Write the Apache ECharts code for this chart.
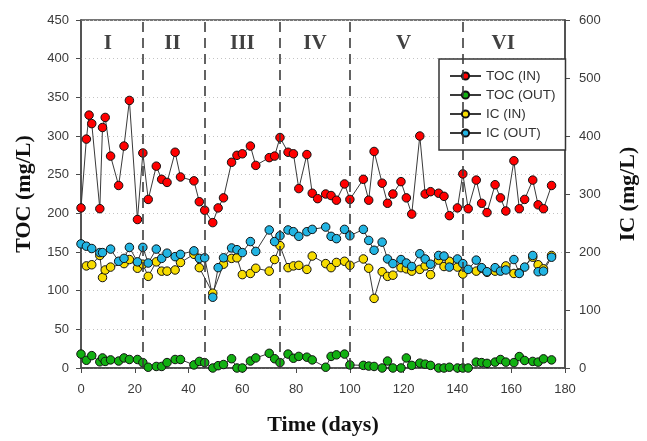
<!DOCTYPE html>
<html>
<head>
<meta charset="utf-8">
<script src="https://cdn.jsdelivr.net/npm/echarts@6/dist/echarts.min.js"></script>
<style>
  html, body { margin: 0; padding: 0; background: #fff; }
  #main { width: 647px; height: 441px; }
</style>
</head>
<body>
<div id="main"></div>
<script>
// sampling days
var days = [0,2,3,4,7,8,9,11,14,16,18,21,23,25,28,30,32,35,37,42,44,46,49,51,53,56,58,60,63,65,70,72,74,77,79,81,84,86,88,91,93,95,98,100,105,107,109,112,114,116,119,121,123,126,128,130,133,135,137,140,142,144,147,149,151,154,156,158,161,163,165,168,170,172,175];

// TOC, mg/L (left axis)
var tocIn = [207,296,327,316,206,311,324,274,236,287,
  346,192,278,218,261,244,240,279,247,242,
  215,204,188,207,220,266,275,277,287,262,
  272,274,298,279,277,232,276,226,219,225,
  223,217,238,218,244,217,280,239,213,225,
  241,220,199,300,225,228,226,222,197,207,
  251,206,243,213,201,237,220,203,268,206,
  218,243,211,206,236];
var tocOut = [18,10,null,16,8,13,8.5,10.5,9,13,
  11,11,7,1,2,2,7,11,11,4,
  8.5,7,0,3,4.5,12,0,0,9,13,
  19,12,7,18,12.6,15,14,10.5,null,1,
  15,17,18,4,3.4,2.5,2,0,9,0,
  0,13,3.4,6.3,5,3.4,0,0,1,0,
  0,0,7.6,7,6,7.6,11,7.6,7,14.8,
  9.7,8.5,7.6,11.8,10.5];

// IC, mg/L (right axis)
var icIn = [null,176,null,178,194,156,169,174,null,180,
  187,172,179,158,183,167,167,169,182,196,
  173,null,129,null,179,189,190,161,163,172,
  167,187,211,173,176,177,170,193,null,180,
  173,182,184,177,188,172,120,166,158,160,
  173,171,167,170,176,161,186,175,184,174,
  162,null,167,172,165,167,null,176,163,164,
  null,191,178,171,194];
var icOut = [214,210,null,206,199,199,null,205,184,189,
  208,183,208,181,205,189,198,192,196,202,
  189,190,122,173,190,207,204,199,218,201,
  238,218,228,238,235,227,235,239,null,243,
  227,223,239,228,239,220,203,217,188,180,
  187,181,175,197,188,179,194,193,174,188,
  180,170,186,173,166,173,167,169,187,163,
  174,194,166,167,191];

// operation phases
var phaseBounds = [23, 46, 74, 100, 142];
var phaseNames = ['I', 'II', 'III', 'IV', 'V', 'VI'];
var phaseLabelX = [10, 34, 60, 87, 120, 157];

function pairs(arr) {
  var out = [];
  days.forEach(function (d, i) {
    if (arr[i] !== null) out.push([d, arr[i]]);
  });
  return out;
}

var myChart = echarts.init(document.getElementById('main'));

var axisColor = '#4a4a4a';
var labelStyle = { fontFamily: 'Liberation Sans', fontSize: 13, color: '#3a3a3a' };
var nameStyle = { fontFamily: 'Liberation Serif', fontWeight: 'bold', fontSize: 22, color: '#111' };

function lineSeries(name, arr, color, yIdx) {
  return {
    name: name,
    type: 'line',
    yAxisIndex: yIdx,
    data: pairs(arr),
    symbol: 'circle',
    symbolSize: 8.5,
    showAllSymbol: true,
    clip: false,
    lineStyle: { color: '#3a3a3a', width: 1 },
    itemStyle: { color: color, borderColor: '#111', borderWidth: 1 }
  };
}

var option = {
  backgroundColor: '#fff',
  animation: false,
  grid: {
    left: 81, right: 71, top: 20, bottom: 65,
    show: true, borderColor: axisColor, borderWidth: 1.5
  },
  legend: {
    orient: 'vertical',
    left: 439, top: 59,
    padding: [10, 10, 10, 10],
    itemGap: 5,
    itemWidth: 31,
    itemHeight: 9,
    borderColor: '#333',
    borderWidth: 1.5,
    backgroundColor: '#fff',
    textStyle: { fontFamily: 'Liberation Sans', fontSize: 13.5, color: '#333' },
    data: ['TOC (IN)', 'TOC (OUT)', 'IC (IN)', 'IC (OUT)']
  },
  xAxis: {
    type: 'value',
    min: 0, max: 180, interval: 20,
    name: 'Time (days)',
    nameLocation: 'middle',
    nameGap: 46,
    nameTextStyle: nameStyle,
    axisLine: { lineStyle: { color: axisColor, width: 1.5 } },
    axisTick: { length: 5, lineStyle: { color: axisColor } },
    axisLabel: Object.assign({ margin: 15 }, labelStyle),
    splitLine: { show: false }
  },
  yAxis: [
    {
      type: 'value',
      min: 0, max: 450, interval: 50,
      name: 'TOC (mg/L)',
      nameLocation: 'middle',
      nameGap: 46,
      nameTextStyle: nameStyle,
      axisLine: { show: true, lineStyle: { color: axisColor, width: 1.5 } },
      axisTick: { show: true, length: 5, lineStyle: { color: axisColor } },
      axisLabel: Object.assign({ margin: 12 }, labelStyle),
      splitLine: { show: true, lineStyle: { color: '#c4c4c4', type: [1, 3], width: 1 } }
    },
    {
      type: 'value',
      position: 'right',
      min: 0, max: 600, interval: 100,
      name: 'IC (mg/L)',
      nameLocation: 'middle',
      nameGap: 52,
      nameRotate: 90,
      nameTextStyle: nameStyle,
      axisLine: { show: true, lineStyle: { color: axisColor, width: 1.5 } },
      axisTick: { show: true, length: 5, lineStyle: { color: axisColor } },
      axisLabel: Object.assign({ margin: 14 }, labelStyle),
      splitLine: { show: false }
    }
  ],
  series: [
    Object.assign(lineSeries('TOC (IN)', tocIn, '#ff0000', 0), {
      markLine: {
        silent: true,
        symbol: 'none',
        label: { show: false },
        lineStyle: { color: '#3c3c3c', width: 1.6, type: [10, 6] },
        data: phaseBounds.map(function (b) { return { xAxis: b }; })
      }
    }),
    lineSeries('TOC (OUT)', tocOut, '#12b012', 0),
    lineSeries('IC (IN)', icIn, '#f7dc00', 1),
    lineSeries('IC (OUT)', icOut, '#22b4e2', 1),
    {
      name: 'phase',
      type: 'scatter',
      yAxisIndex: 0,
      symbolSize: 0,
      silent: true,
      data: phaseNames.map(function (n, i) { return { name: n, value: [phaseLabelX[i], 420] }; }),
      label: {
        show: true,
        position: 'inside',
        formatter: '{b}',
        fontFamily: 'Liberation Serif',
        fontWeight: 'bold',
        fontSize: 21,
        color: '#111'
      }
    }
  ]
};

myChart.setOption(option);
</script>
</body>
</html>
